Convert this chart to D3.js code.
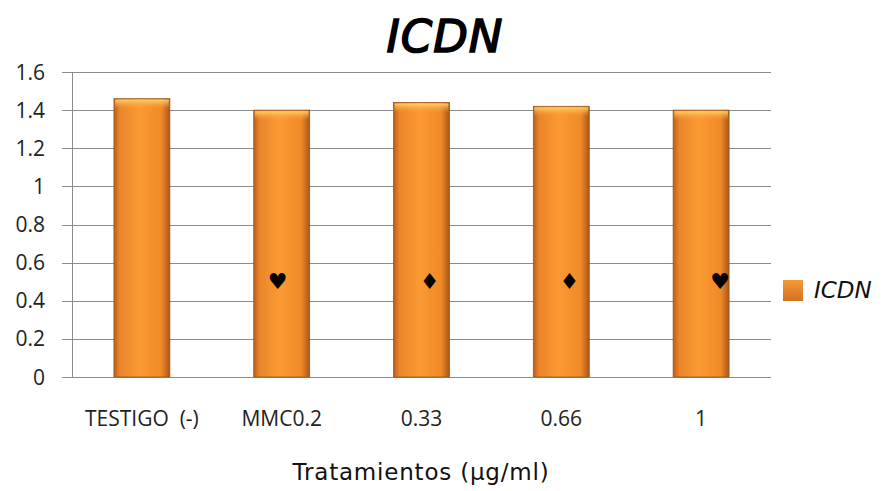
<!DOCTYPE html>
<html>
<head>
<meta charset="utf-8">
<script src="https://cdn.jsdelivr.net/npm/d3@7"></script>
<style>
  html, body { margin: 0; padding: 0; background: #fff; }
  svg { display: block; }
</style>
</head>
<body>
<svg id="chart" width="886" height="491"></svg>
<script>
// ICDN por tratamiento
const categories = ["TESTIGO  (-)", "MMC0.2", "0.33", "0.66", "1"];
const icdnValues = [1.46, 1.40, 1.44, 1.42, 1.40];
const markerSymbols = ["", "\u2665", "\u2666", "\u2666", "\u2665"];
const markerValues = [null, 0.5, 0.5, 0.5, 0.5];
const yTicks = [0, 0.2, 0.4, 0.6, 0.8, 1, 1.2, 1.4, 1.6];
const seriesName = "ICDN";
const chartTitle = "ICDN";
const xAxisTitle = "Tratamientos (\u00b5g/ml)";

const svg = d3.select("#chart");
const margin = { left: 72, right: 115, top: 72, bottom: 114 };
const W = 886, H = 491;
const x0 = margin.left, x1 = W - margin.right, y0 = H - margin.bottom, y1 = margin.top;

const x = d3.scaleBand().domain(categories).range([x0, x1]).paddingInner(0.6).paddingOuter(0.3);
const y = d3.scaleLinear().domain([0, 1.6]).range([y0, y1]);

const labelFont = "'Open Sans', 'Noto Sans', sans-serif";

const defs = svg.append("defs");
const grad = defs.append("linearGradient").attr("id", "barGrad").attr("x1", "0").attr("x2", "1").attr("y1", "0").attr("y2", "0");
grad.append("stop").attr("offset", "0%").attr("stop-color", "#b95f1a");
grad.append("stop").attr("offset", "10%").attr("stop-color", "#e9842a");
grad.append("stop").attr("offset", "45%").attr("stop-color", "#fb9a33");
grad.append("stop").attr("offset", "85%").attr("stop-color", "#f08a27");
grad.append("stop").attr("offset", "100%").attr("stop-color", "#a9561a");
const topGrad = defs.append("linearGradient").attr("id", "topGrad").attr("x1", "0").attr("x2", "0").attr("y1", "0").attr("y2", "1");
topGrad.append("stop").attr("offset", "0%").attr("stop-color", "#ffd36a").attr("stop-opacity", 0.95);
topGrad.append("stop").attr("offset", "100%").attr("stop-color", "#fba43a").attr("stop-opacity", 0);
const legGrad = defs.append("linearGradient").attr("id", "legGrad").attr("x1", "0").attr("x2", "0").attr("y1", "0").attr("y2", "1");
legGrad.append("stop").attr("offset", "0%").attr("stop-color", "#f49a35");
legGrad.append("stop").attr("offset", "100%").attr("stop-color", "#d2721f");

// Gridlines with short outside ticks
svg.append("g").selectAll("line").data(yTicks).join("line")
  .attr("x1", x0 - 10).attr("x2", x1)
  .attr("y1", d => Math.round(y(d)) + 0.5).attr("y2", d => Math.round(y(d)) + 0.5)
  .attr("stroke", "#8c8c8c").attr("stroke-width", 1);

// Vertical axis line
svg.append("line")
  .attr("x1", x0 + 0.5).attr("x2", x0 + 0.5)
  .attr("y1", y(1.6)).attr("y2", y(0))
  .attr("stroke", "#8c8c8c").attr("stroke-width", 1);

// Y tick labels
svg.append("g").selectAll("text").data(yTicks).join("text")
  .attr("x", 45).attr("y", d => y(d)).attr("dy", "0.36em")
  .attr("text-anchor", "end")
  .attr("font-family", labelFont)
  .attr("font-size", 21).attr("fill", "#222")
  .text(d => d3.format("~g")(d));

// Bars
const bars = svg.append("g");
bars.selectAll("rect.bar").data(icdnValues).join("rect")
  .attr("class", "bar")
  .attr("x", (d, i) => x(categories[i]))
  .attr("y", d => y(d))
  .attr("width", x.bandwidth())
  .attr("height", d => y(0) - y(d))
  .attr("fill", "url(#barGrad)")
  .attr("stroke", "#9c5418").attr("stroke-width", 0.8);
bars.selectAll("rect.hl").data(icdnValues).join("rect")
  .attr("class", "hl")
  .attr("x", (d, i) => x(categories[i]) + 1)
  .attr("y", d => y(d) + 1)
  .attr("width", x.bandwidth() - 2)
  .attr("height", 9)
  .attr("fill", "url(#topGrad)");

// Significance markers inside bars
const markerShift = [0, -4, 8, 8, 19];
svg.append("g").selectAll("text").data(markerValues).join("text")
  .filter(d => d !== null)
  .attr("x", (d, i) => x(categories[i + 1]) + x.bandwidth() / 2 + markerShift[i + 1])
  .attr("y", d => y(d))
  .attr("dy", "0.35em")
  .attr("text-anchor", "middle")
  .attr("font-family", "'DejaVu Sans', sans-serif")
  .attr("font-size", 22).attr("fill", "#000")
  .text((d, i) => markerSymbols[i + 1]);

// Category labels
svg.append("g").selectAll("text").data(categories).join("text")
  .attr("x", d => x(d) + x.bandwidth() / 2)
  .attr("y", 426)
  .attr("text-anchor", "middle")
  .attr("font-family", labelFont)
  .attr("font-size", 21).attr("fill", "#222")
  .attr("xml:space", "preserve")
  .text(d => d);

// Axis title
svg.append("text")
  .attr("x", 421).attr("y", 480)
  .attr("text-anchor", "middle")
  .attr("font-family", "'Comic Sans MS', 'DejaVu Sans', sans-serif")
  .attr("font-size", 23).attr("letter-spacing", 0.8).attr("fill", "#111")
  .text(xAxisTitle);

// Chart title
svg.append("text")
  .attr("x", 445).attr("y", 52)
  .attr("text-anchor", "middle")
  .attr("font-family", "'Comic Sans MS', 'DejaVu Sans', sans-serif")
  .attr("font-style", "italic")
  .attr("font-size", 45).attr("fill", "#000")
  .attr("stroke", "#000").attr("stroke-width", 1.6)
  .attr("letter-spacing", 1)
  .text(chartTitle);

// Legend
svg.append("rect")
  .attr("x", 783).attr("y", 280).attr("width", 20).attr("height", 21)
  .attr("fill", "url(#legGrad)");
svg.append("text")
  .attr("x", 814).attr("y", 290).attr("dy", "0.35em")
  .attr("font-family", "'DejaVu Sans', sans-serif")
  .attr("font-style", "italic")
  .attr("font-size", 23).attr("fill", "#111")
  .text(seriesName);
</script>
</body>
</html>
